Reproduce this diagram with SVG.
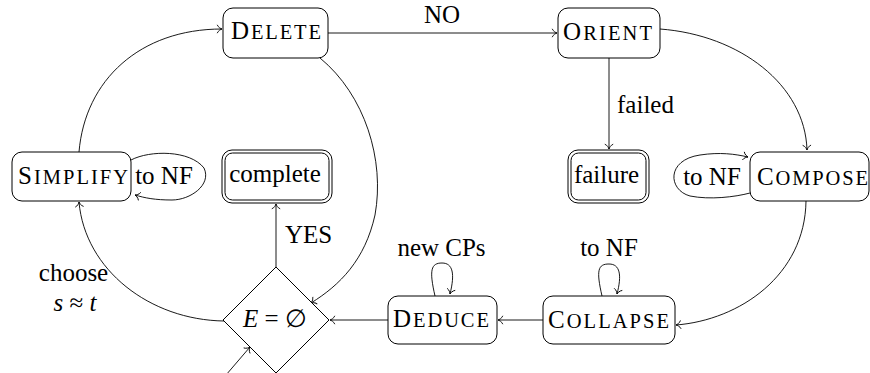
<svg xmlns="http://www.w3.org/2000/svg" width="870" height="373" viewBox="0 0 870 373">
<style>
.c{text-anchor:middle}
.box{fill:#fff;stroke:#000;stroke-width:1}
.e{fill:none;stroke:#000;stroke-width:0.9}
.ar{marker-end:url(#a)}
</style>
<defs>
<marker id="a" viewBox="-7 -6 8 12" refX="0" refY="0" markerWidth="8" markerHeight="12" markerUnits="userSpaceOnUse" orient="auto">
<path d="M-4.8,-4.2 C-3.8,-1.6 -1.2,-0.4 0,0 C-1.2,0.4 -3.8,1.6 -4.8,4.2" fill="none" stroke="#000" stroke-width="0.9"/>
</marker>
</defs>
<g id="connectors">
<path class="e ar" d="M328,33 L557,33"/>
<text class="c" font-family="Liberation Serif" font-size="25" x="442" y="23">NO</text>
<path class="e ar" d="M609,58 L609,149"/>
<text class="c" font-family="Liberation Serif" font-size="25" x="645.5" y="113">failed</text>
<path class="e ar" d="M660,29 C740,35 805,85 807,150"/>
<path class="e ar" d="M806,201 C805,275 740,320 676,325"/>
<path class="e ar" d="M543,320 L498,320"/>
<path class="e ar" d="M388,320 L330,320"/>
<path class="e ar" d="M276,267 L276,204"/>
<text class="c" font-family="Liberation Serif" font-size="25" x="308.5" y="243">YES</text>
<path class="e ar" d="M224,321 C150,320 85,270 79,202"/>
<text class="c" font-family="Liberation Serif" font-size="25" x="73.5" y="281">choose</text>
<text class="c" font-family="Liberation Serif" font-size="25" x="75" y="311"><tspan font-style="italic">s</tspan> ≈ <tspan font-style="italic">t</tspan></text>
<path class="e ar" d="M79,152 C85,80 140,29 222,29"/>
<path class="e ar" d="M320,58 C365,95 385,160 375,215 C365,260 340,285 311,303"/>
<path class="e ar" d="M226,375 L250,347"/>
<path class="e ar" d="M131,160 C150,150 190,150 204,168 C212,185 190,200 172,200 C155,200 145,198 135,195"/>
<text class="c" font-family="Liberation Serif" font-size="25" x="164" y="184">to NF</text>
<path class="e ar" d="M750,193 C735,197 710,200 690,196 C668,190 666,160 700,155 C720,152 735,154 748,157"/>
<text class="c" font-family="Liberation Serif" font-size="25" x="712" y="185">to NF</text>
<path class="e ar" d="M602,296 C596,270 598,264 609,264 C620,264 622,275 617,294"/>
<text class="c" font-family="Liberation Serif" font-size="25" x="609" y="256">to NF</text>
<path class="e ar" d="M435,296 C429,270 431,263 442,263 C453,263 455,274 450,294"/>
<text class="c" font-family="Liberation Serif" font-size="25" x="441.5" y="256">new CPs</text>
</g>
<g id="delete">
<rect class="box" x="223" y="8" width="105" height="50" rx="10"/>
<text class="c" font-family="Liberation Serif" font-size="25" x="276" y="39" textLength="90">D<tspan font-size="20.5">ELETE</tspan></text>
</g>
<g id="orient">
<rect class="box" x="558" y="8" width="102" height="50" rx="10"/>
<text class="c" font-family="Liberation Serif" font-size="25" x="607.5" y="40" textLength="89">O<tspan font-size="20.5">RIENT</tspan></text>
</g>
<g id="simplify">
<rect class="box" x="12" y="152" width="119" height="49" rx="10"/>
<text class="c" font-family="Liberation Serif" font-size="25" x="73" y="184" textLength="110">S<tspan font-size="20.5">IMPLIFY</tspan></text>
</g>
<g id="complete">
<rect class="box" x="222" y="150" width="110" height="53" rx="10"/>
<rect class="box" x="225" y="153" width="104" height="47" rx="7.5"/>
<text class="c" font-family="Liberation Serif" font-size="25" x="275" y="182">complete</text>
</g>
<g id="failure">
<rect class="box" x="568" y="150" width="81" height="53" rx="10"/>
<rect class="box" x="571" y="153" width="75" height="47" rx="7.5"/>
<text class="c" font-family="Liberation Serif" font-size="25" x="606.5" y="183">failure</text>
</g>
<g id="compose">
<rect class="box" x="750" y="152" width="119" height="49" rx="10"/>
<text class="c" font-family="Liberation Serif" font-size="25" x="812.5" y="185" textLength="111">C<tspan font-size="20.5">OMPOSE</tspan></text>
</g>
<g id="collapse">
<rect class="box" x="543" y="296" width="132" height="48" rx="10"/>
<text class="c" font-family="Liberation Serif" font-size="25" x="608.5" y="328" textLength="121">C<tspan font-size="20.5">OLLAPSE</tspan></text>
</g>
<g id="deduce">
<rect class="box" x="388" y="296" width="109" height="48" rx="10"/>
<text class="c" font-family="Liberation Serif" font-size="25" x="441" y="327" textLength="96">D<tspan font-size="20.5">EDUCE</tspan></text>
</g>
<g id="test">
<polygon class="box" points="276,267 329,320 276,373 223,320"/>
<text class="c" font-family="Liberation Serif" font-size="25" x="275" y="327"><tspan font-style="italic">E</tspan> = ∅</text>
</g>
</svg>
